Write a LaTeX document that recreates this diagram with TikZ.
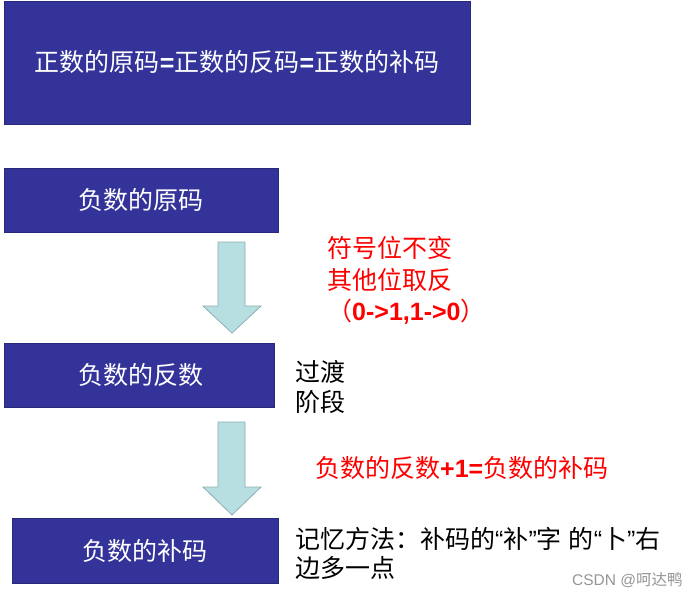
\documentclass[tikz,border=0pt]{standalone}
\usepackage{fontspec}
\setmainfont{Liberation Sans}
\newfontfamily\cjk{Noto Sans CJK SC}
\definecolor{boxblue}{RGB}{51,51,153}
\definecolor{arrowfill}{RGB}{183,222,224}
\definecolor{arrowline}{RGB}{140,175,178}
\definecolor{redtxt}{RGB}{255,0,0}
\definecolor{wmgray}{RGB}{150,150,150}
\tikzset{
  bluebox/.style={fill=boxblue, draw=boxblue!80!black, line width=0.6pt},
  boxtext/.style={text=white, font=\fontsize{25}{30}\selectfont\cjk, inner sep=0pt},
  blockarrow/.style={fill=arrowfill, draw=arrowline, line width=0.8pt},
  redline/.style={text=redtxt, font=\fontsize{25}{30}\selectfont\cjk, anchor=west, inner sep=0pt},
  blackline/.style={text=black, font=\fontsize{25}{30}\selectfont\cjk, anchor=west, inner sep=0pt},
}
\newcommand{\lat}[1]{{\fontspec{Liberation Sans}#1}}
\begin{document}
\begin{tikzpicture}[x=1pt,y=-1pt]
\useasboundingbox (0,0) rectangle (700,600);
\fill[white] (0,0) rectangle (700,600);
% boxes
\draw[bluebox] (4,1) rectangle (470,124);
\node[boxtext] (top) at (237,62) {正数的原码\lat{\bfseries =}正数的反码\lat{\bfseries =}正数的补码};
\draw[bluebox] (4,168) rectangle (278,232);
\node[boxtext] (yuan) at (141,200) {负数的原码};
\draw[bluebox] (4,343) rectangle (274,407);
\node[boxtext] (fan) at (141,375) {负数的反数};
\draw[bluebox] (12,518) rectangle (278,583);
\node[boxtext] (bu) at (145,551) {负数的补码};
% block arrows
\draw[blockarrow] (218,242) -- (245,242) -- (245,306) -- (261,306) -- (232,333) -- (203,306) -- (218,306) -- cycle;
\draw[blockarrow] (218,422) -- (245,422) -- (245,487) -- (261,487) -- (232,515) -- (203,487) -- (218,487) -- cycle;
% red notes
\node[redline] (r1) at (327,248) {符号位不变};
\node[redline] (r2) at (327,280) {其他位取反};
\node[redline] (r3) at (327,312) {（\lat{\bfseries 0->1,1->0}）};
\node[redline] (r4) at (315,468) {负数的反数\lat{\bfseries +1=}负数的补码};
% black notes
\node[blackline] (g1) at (295,372) {过渡};
\node[blackline] (g2) at (295,402) {阶段};
\node[blackline] (m1) at (295,539) {记忆方法：补码的\lat{“}补\lat{”}字\lat{\ }的\lat{“}卜\lat{”}右};
\node[blackline] (m2) at (295,568) {边多一点};
% watermark
\node[anchor=west, inner sep=0pt, text=wmgray, font=\fontsize{15.5}{18}\selectfont] (wm) at (572,580) {CSDN @{\cjk 呵达鸭}};
\end{tikzpicture}
\end{document}
